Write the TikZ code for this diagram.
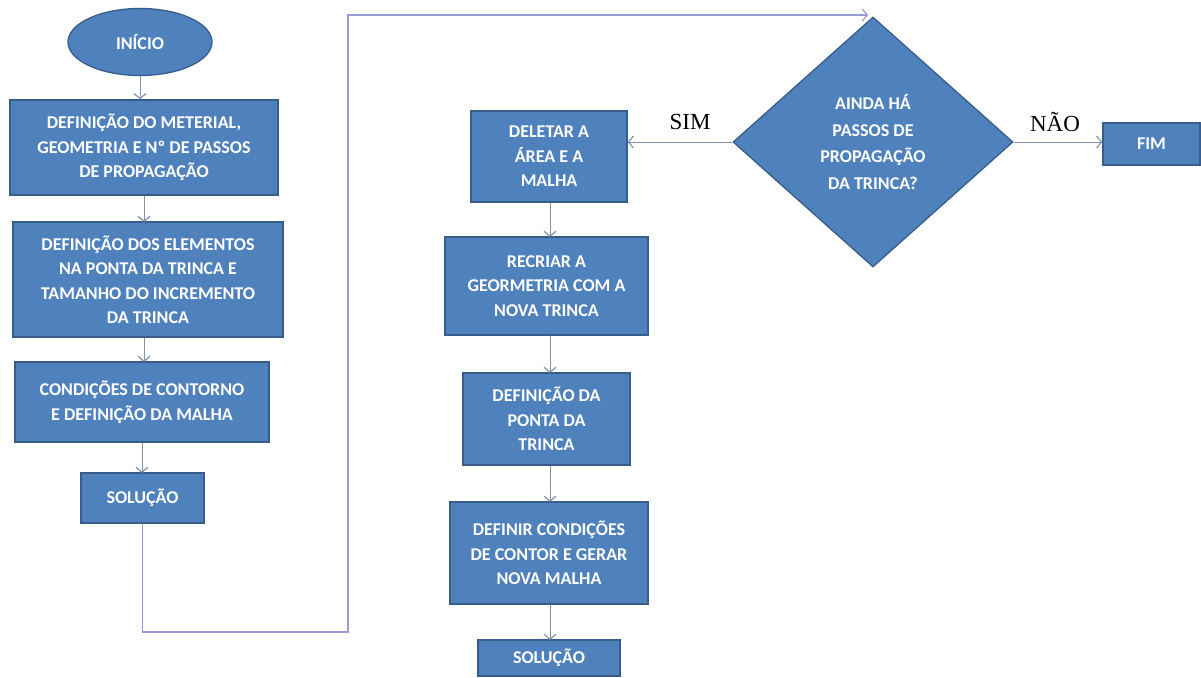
\documentclass[tikz,border=0pt]{standalone}
\usepackage{fontspec}
\setmainfont{Liberation Serif}
\newfontfamily\boxfont{Carlito}
\usetikzlibrary{shapes.geometric,arrows.meta}
\definecolor{boxfill}{HTML}{4F81BD}
\definecolor{boxline}{HTML}{385D8A}
\definecolor{arrline}{HTML}{8193B2}
\definecolor{loopline}{HTML}{9A9AD2}
\tikzset{
  x=1pt,y=-1pt,
  proc/.style={draw=boxline,line width=1.3pt,fill=boxfill,text=white,
    font=\boxfont\bfseries\fontsize{18}{24.5}\selectfont,align=center,
    inner sep=0pt,rectangle},
  arr/.style={draw=arrline,line width=1pt,-{Straight Barb[length=5pt,width=12pt,line width=1.2pt]}},
  looparr/.style={draw=loopline,line width=1.3pt,-{Straight Barb[length=5pt,width=12pt,line width=1.2pt]}},
  lbl/.style={font=\fontsize{23}{26}\selectfont,text=black,inner sep=0pt}
}
\begin{document}
\begin{tikzpicture}
\useasboundingbox[fill=white] (0,0) rectangle (1201,677);
% left column
\node[proc,ellipse,minimum width=144pt,minimum height=67pt] (ini) at (140,42) {INÍCIO};
\node[proc,minimum width=268pt,minimum height=95pt] (b1) at (144,147.5)
  {DEFINIÇÃO DO METERIAL,\\GEOMETRIA E Nº DE PASSOS\\DE PROPAGAÇÃO};
\node[proc,minimum width=270pt,minimum height=115pt] (b2) at (148,279.5)
  {DEFINIÇÃO DOS ELEMENTOS\\NA PONTA DA TRINCA E\\TAMANHO DO INCREMENTO\\DA TRINCA};
\node[proc,minimum width=254pt,minimum height=80pt] (b3) at (142,402)
  {CONDIÇÕES DE CONTORNO\\E DEFINIÇÃO DA MALHA};
\node[proc,minimum width=123pt,minimum height=50pt] (s1) at (142.5,498) {SOLUÇÃO};
% decision
\node[proc,diamond,aspect=1.12,minimum width=280pt,minimum height=250pt,
  font=\boxfont\bfseries\fontsize{18}{26.5}\selectfont] (dia) at (873,142)
  {AINDA HÁ\\PASSOS DE\\PROPAGAÇÃO\\DA TRINCA?};
\node[proc,minimum width=97pt,minimum height=42pt] (fim) at (1151.5,144) {FIM};
% right column
\node[proc,minimum width=156pt,minimum height=91pt] (c1) at (549,156.5)
  {DELETAR A\\ÁREA E A\\MALHA};
\node[proc,minimum width=203pt,minimum height=98pt] (c2) at (546.5,286)
  {RECRIAR A\\GEORMETRIA COM A\\NOVA TRINCA};
\node[proc,minimum width=167pt,minimum height=92pt] (c3) at (546.5,419)
  {DEFINIÇÃO DA\\PONTA DA\\TRINCA};
\node[proc,minimum width=198pt,minimum height=102pt] (c4) at (549,553)
  {DEFINIR CONDIÇÕES\\DE CONTOR E GERAR\\NOVA MALHA};
\node[proc,minimum width=142pt,minimum height=36pt] (s2) at (549,658) {SOLUÇÃO};
% labels
\node[lbl] (sim) at (690,122) {SIM};
\node[lbl] (nao) at (1055,122) {NÃO};
% connectors
\draw[arr] (ini.south) -- (ini.south|-b1.north);
\draw[arr] (b1.south-|144,0) -- (144,222);
\draw[arr] (b2.south-|144,0) -- (144,362);
\draw[arr] (b3.south-|142,0) -- (142,473);
\draw[arr] (c1.south-|550,0) -- (550,237);
\draw[arr] (c2.south-|550,0) -- (550,373);
\draw[arr] (c3.south-|550,0) -- (550,502);
\draw[arr] (c4.south-|550,0) -- (550,640);
\draw[arr] (dia.west) -- (dia.west-|c1.east);
\draw[arr] (dia.east) -- (dia.east-|fim.west);
\coordinate (l1) at (348,632);
\coordinate (l2) at (348,15);
\coordinate (l3) at (868,15);
\draw[looparr] (s1.south) |- (l1) -- (l2) -- (l3);
\end{tikzpicture}
\end{document}
